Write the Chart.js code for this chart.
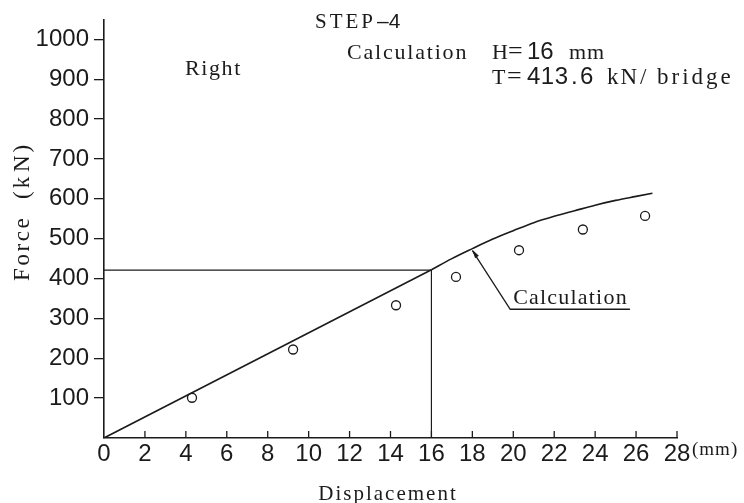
<!DOCTYPE html>
<html>
<head>
<meta charset="utf-8">
<script src="https://cdn.jsdelivr.net/npm/chart.js@4"></script>
<style>
  html, body { margin: 0; padding: 0; background: #fff; }
  #wrap { width: 744px; height: 503px; position: relative; }
</style>
</head>
<body>
<div id="wrap"><canvas id="chart"></canvas></div>
<script>
// Calculation curve (displacement mm, force kN): straight to H, then curved
const calcX = [0, 16, 17, 18, 19, 20, 21, 22, 23, 24, 25, 26, 26.8];
const calcY = [0, 422, 450, 475, 499, 520, 540, 556, 570, 584, 596, 606, 614];

// Test points (open circles)
const testX = [4.3, 9.24, 14.27, 17.2, 20.28, 23.4, 26.44];
const testY = [101, 222, 333, 404, 471, 523, 557];

// Design point H / T lines
const designH = 16;
const designForce = 421;

const xTickValues = [0, 2, 4, 6, 8, 10, 12, 14, 16, 18, 20, 22, 24, 26, 28];
const yTickValues = [100, 200, 300, 400, 500, 600, 700, 800, 900, 1000];

// "Calculation" callout: tip on the curve, elbow, end of underline (data coords)
const calloutTip = [18, 475];
const calloutElbow = [19.85, 323];
const calloutEndX = 25.7;

const INK = '#1b1b1b';
const SERIF = '"Liberation Serif", "DejaVu Serif", serif';
const SANS = '"Liberation Sans", Arial, sans-serif';

// draw text pieces at given x positions: [text, x, font, spacing]
function drawPieces(ctx, y, pieces) {
    pieces.forEach(([text, x, font, spacing]) => {
        ctx.font = font;
        ctx.letterSpacing = (spacing || 0) + 'px';
        ctx.fillText(text, x, y);
    });
}

const overlay = {
    id: 'overlay',
    afterDraw(chart) {
        const ctx = chart.ctx;
        const xs = chart.scales.x;
        const ys = chart.scales.y;
        const area = chart.chartArea;
        ctx.save();
        ctx.strokeStyle = INK;
        ctx.fillStyle = INK;
        ctx.lineWidth = 1.3;

        // inward x tick marks
        xTickValues.forEach(v => {
            if (v === 0) return;
            const px = xs.getPixelForValue(v);
            ctx.beginPath();
            ctx.moveTo(px, area.bottom);
            ctx.lineTo(px, area.bottom - 7);
            ctx.stroke();
        });

        // callout
        const tx = xs.getPixelForValue(calloutTip[0]);
        const ty = ys.getPixelForValue(calloutTip[1]);
        const ex = xs.getPixelForValue(calloutElbow[0]);
        const ey = ys.getPixelForValue(calloutElbow[1]);
        const endX = xs.getPixelForValue(calloutEndX);
        ctx.beginPath();
        ctx.moveTo(tx, ty + 2);
        ctx.lineTo(ex, ey);
        ctx.lineTo(endX, ey);
        ctx.stroke();
        const ang = Math.atan2(ty - ey, tx - ex);
        ctx.beginPath();
        ctx.moveTo(tx, ty + 1);
        ctx.lineTo(tx - 9 * Math.cos(ang - 0.25), ty + 1 - 9 * Math.sin(ang - 0.25));
        ctx.lineTo(tx - 9 * Math.cos(ang + 0.25), ty + 1 - 9 * Math.sin(ang + 0.25));
        ctx.closePath();
        ctx.fill();

        ctx.textBaseline = 'alphabetic';
        ctx.textAlign = 'left';
        drawPieces(ctx, ey - 5, [['Calculation', ex + 3, '22px ' + SERIF, 1.2]]);

        // header texts
        const s22 = '22px ' + SERIF;
        const s23 = '23px ' + SERIF;
        const n24 = '24px ' + SANS;
        drawPieces(ctx, 28, [['STEP', 315, '21px ' + SERIF, 3], ['–4', 377, '21px ' + SANS, 0]]);
        drawPieces(ctx, 75, [['Right', 185, s22, 1.6]]);
        drawPieces(ctx, 59, [
            ['Calculation', 347, s22, 1.8],
            ['H', 492, s22, 0], ['=', 508, '26px ' + SERIF, 0],
            ['16', 527, n24, 0], ['mm', 569, s22, 1]
        ]);
        drawPieces(ctx, 84, [
            ['T', 492, s22, 0], ['=', 507, '26px ' + SERIF, 0],
            ['413', 527, n24, 0.5], ['.', 571, n24, 0], ['6', 580, n24, 0],
            ['kN', 607, s23, 2], ['/', 640, s23, 0], ['bridge', 657, s23, 3]
        ]);

        // units after last x tick
        drawPieces(ctx, 455, [['(mm)', 692, '19px ' + SERIF, 1]]);

        // x-axis title
        ctx.textAlign = 'center';
        ctx.font = '21px ' + SERIF;
        ctx.letterSpacing = '2px';
        ctx.fillText('Displacement', 388, 500);

        // y-axis title, rotated
        ctx.save();
        ctx.translate(29, 0);
        ctx.rotate(-Math.PI / 2);
        ctx.textAlign = 'left';
        drawPieces(ctx, 0, [
            ['Force', -281, '23px ' + SERIF, 2.6],
            ['(k', -199, '23px ' + SERIF, 3],
            ['N)', -172, '23px ' + SERIF, 3]
        ]);
        ctx.restore();

        ctx.restore();
    }
};

new Chart(document.getElementById('chart'), {
    type: 'scatter',
    data: {
        datasets: [
            {
                // straight part up to H
                data: calcX.slice(0, 2).map((x, i) => ({ x, y: calcY[i] })),
                showLine: true,
                borderColor: INK,
                borderWidth: 1.6,
                pointRadius: 0
            },
            {
                // curved part beyond H
                data: calcX.slice(1).map((x, i) => ({ x, y: calcY[i + 1] })),
                showLine: true,
                borderColor: INK,
                borderWidth: 1.6,
                pointRadius: 0,
                cubicInterpolationMode: 'monotone'
            },
            {
                data: [
                    { x: 0, y: designForce },
                    { x: designH, y: designForce },
                    { x: designH, y: 0 }
                ],
                showLine: true,
                borderColor: INK,
                borderWidth: 1.2,
                pointRadius: 0
            },
            {
                data: testX.map((x, i) => ({ x, y: testY[i] })),
                showLine: false,
                pointStyle: 'circle',
                pointRadius: 4.5,
                borderWidth: 1.3,
                borderColor: INK,
                backgroundColor: '#fff'
            }
        ]
    },
    options: {
        responsive: true,
        maintainAspectRatio: false,
        animation: false,
        layout: { padding: { left: 0, right: 67, top: 12, bottom: 0 } },
        plugins: {
            legend: { display: false },
            tooltip: { enabled: false }
        },
        scales: {
            x: {
                type: 'linear',
                min: 0,
                max: 28,
                afterBuildTicks: scale => {
                    scale.ticks = xTickValues.map(v => ({ value: v }));
                },
                afterFit: scale => { scale.height = 65; },
                ticks: {
                    color: INK,
                    font: { family: SANS, size: 24 },
                    padding: 2,
                    maxRotation: 0,
                    autoSkip: false,
                    callback: v => String(v)
                },
                grid: { drawOnChartArea: false, drawTicks: false },
                border: { color: INK, width: 1.6 }
            },
            y: {
                min: 0,
                max: 1050,
                afterBuildTicks: scale => {
                    scale.ticks = yTickValues.map(v => ({ value: v }));
                },
                afterFit: scale => { scale.width = 104; },
                ticks: {
                    color: INK,
                    font: { family: SANS, size: 24 },
                    padding: 5,
                    autoSkip: false,
                    callback: v => String(v)
                },
                grid: { drawOnChartArea: false, drawTicks: true, tickLength: 10, color: INK, lineWidth: 1.3 },
                border: { color: INK, width: 1.6 }
            }
        }
    },
    plugins: [overlay]
});
</script>
</body>
</html>
